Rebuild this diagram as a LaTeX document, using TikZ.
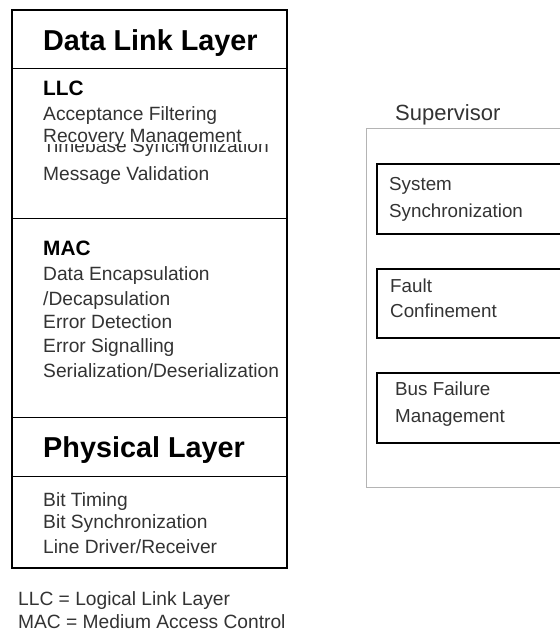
\documentclass[tikz,border=0pt]{standalone}
\usepackage{fontspec}
\setmainfont{Liberation Sans}
\definecolor{bodytext}{HTML}{333333}
\definecolor{framegray}{HTML}{B4B4B4}
\begin{document}
\begin{tikzpicture}[x=1pt,y=-1pt,
  title/.style={anchor=base west,inner sep=0pt,font=\fontsize{28.8}{32}\selectfont\bfseries,text=black},
  subtitle/.style={anchor=base west,inner sep=0pt,font=\fontsize{20.8}{24}\selectfont\bfseries,text=black},
  item/.style={anchor=base west,inner sep=0pt,font=\fontsize{19.2}{24}\selectfont,text=bodytext},
  superitem/.style={anchor=base west,inner sep=0pt,font=\fontsize{18.8}{24}\selectfont,text=bodytext},
  layerframe/.style={draw=black,line width=1.3pt},
  divider/.style={draw=black,line width=1pt},
  supframe/.style={draw=framegray,line width=1pt},
  funcbox/.style={draw=black,line width=1.3pt}]
\useasboundingbox (0,0) rectangle (560,633);
\clip (0,0) rectangle (560,633);
\fill[white] (0,0) rectangle (560,633);

% layer stack
\draw[layerframe] (12,10) rectangle (287,568);
\draw[divider] (12,68) -- (287,68);
\draw[divider] (12,218) -- (287,218);
\draw[divider] (12,417) -- (287,417);
\draw[divider] (12,476) -- (287,476);

\node[title] (dll) at (43,50) {Data Link Layer};

\node[subtitle] (llc) at (43,95) {LLC};
\node[item] (acc) at (43,120) {Acceptance Filtering};
\node[item] (tbs) at (43,152) {Timebase Synchronization};
\fill[white] (40,126) rectangle (285,143.6);
\node[item] (rec) at (43,142) {Recovery Management};
\node[item] (msg) at (43,180) {Message Validation};

\node[subtitle] (mac) at (43,255) {MAC};
\node[item] (enc) at (43,280) {Data Encapsulation};
\node[item] (dec) at (43,305) {/Decapsulation};
\node[item] (edet) at (43,328) {Error Detection};
\node[item] (esig) at (43,352) {Error Signalling};
\node[item] (ser) at (43,377) {Serialization/Deserialization};

\node[title] (phy) at (43,457) {Physical Layer};
\node[item] (bt) at (43,506) {Bit Timing};
\node[item] (bs) at (43,528) {Bit Synchronization};
\node[item] (ld) at (43,553) {Line Driver/Receiver};

% abbreviations
\node[item] (ab1) at (18,605) {LLC = Logical Link Layer};
\node[item] (ab2) at (18,628) {MAC = Medium Access Control};

% supervisor
\node[anchor=base west,inner sep=0pt,font=\fontsize{22}{24}\selectfont,text=bodytext] (sup) at (395,120) {Supervisor};
\draw[supframe] (366,128) rectangle (580,487);

\draw[funcbox] (377,164) rectangle (580,234);
\node[superitem] (s1a) at (389,190) {System};
\node[superitem] (s1b) at (389,217) {Synchronization};

\draw[funcbox] (377,269) rectangle (580,338);
\node[superitem] (s2a) at (390,292) {Fault};
\node[superitem] (s2b) at (390,317) {Confinement};

\draw[funcbox] (377,373) rectangle (580,443);
\node[superitem] (s3a) at (395,395) {Bus Failure};
\node[superitem] (s3b) at (395,422) {Management};
\end{tikzpicture}
\end{document}
